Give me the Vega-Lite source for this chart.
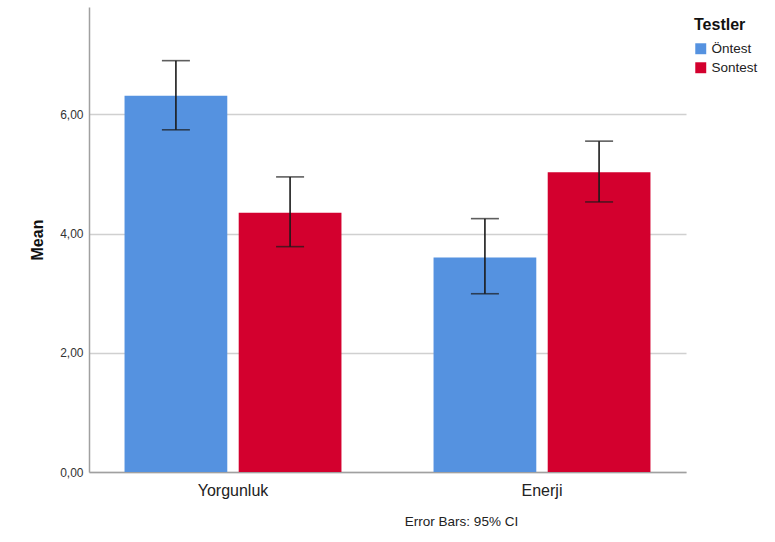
{
  "$schema": "https://vega.github.io/schema/vega-lite/v6.json",
  "autosize": {"type": "none"},
  "padding": {"left": 89, "top": 7, "right": 89, "bottom": 70},
  "width": 597,
  "height": 465,
  "background": "white",
  "config": {
    "font": "Liberation Sans",
    "view": {"stroke": null},
    "locale": {
      "number": {"decimal": ",", "thousands": ".", "grouping": [3], "currency": ["", ""]}
    }
  },
  "data": {
    "values": [
      {"Olcum": "Yorgunluk", "Test": "Öntest", "mean": 6.31, "lo": 5.74, "hi": 6.90},
      {"Olcum": "Yorgunluk", "Test": "Sontest", "mean": 4.35, "lo": 3.78, "hi": 4.95},
      {"Olcum": "Enerji", "Test": "Öntest", "mean": 3.60, "lo": 2.99, "hi": 4.25},
      {"Olcum": "Enerji", "Test": "Sontest", "mean": 5.03, "lo": 4.53, "hi": 5.55}
    ]
  },
  "encoding": {
    "x": {
      "field": "Olcum",
      "type": "nominal",
      "sort": ["Yorgunluk", "Enerji"],
      "scale": {"paddingInner": 0.298, "paddingOuter": 0.115},
      "axis": {
        "title": "Error Bars: 95% CI",
        "titleFont": "Liberation Sans",
        "titleFontSize": 13.5,
        "titleFontWeight": "normal",
        "titleColor": "#222222",
        "titleX": 372,
        "titleY": 42,
        "titleAlign": "center",
        "labelAngle": 0,
        "labelFontSize": 16,
        "labelColor": "#222222",
        "labelPadding": 10,
        "ticks": false,
        "domainColor": "#a0a0a0",
        "domainWidth": 1.5
      }
    },
    "xOffset": {
      "field": "Test",
      "type": "nominal",
      "sort": ["Öntest", "Sontest"],
      "scale": {"paddingInner": 0.1, "paddingOuter": 0}
    }
  },
  "layer": [
    {
      "mark": {"type": "bar"},
      "encoding": {
        "y": {
          "field": "mean",
          "type": "quantitative",
          "scale": {"domain": [0, 7.8], "nice": false},
          "axis": {
            "title": "Mean",
            "titleFontSize": 16,
            "titleFontWeight": "bold",
            "titleColor": "#111111",
            "titlePadding": 14,
            "values": [0, 2, 4, 6],
            "format": ".2f",
            "labelFontSize": 12,
            "labelColor": "#333333",
            "labelPadding": 6,
            "ticks": false,
            "domainColor": "#a0a0a0",
            "domainWidth": 1.5,
            "grid": true,
            "gridColor": "#d0d0d0",
            "gridWidth": 1.5
          }
        },
        "color": {
          "field": "Test",
          "type": "nominal",
          "sort": ["Öntest", "Sontest"],
          "scale": {"domain": ["Öntest", "Sontest"], "range": ["#5592e0", "#d3002e"]},
          "legend": {
            "title": "Testler",
            "orient": "none",
            "legendX": 605,
            "legendY": 10,
            "titleFontSize": 16,
            "titleFontWeight": "bold",
            "titleColor": "#111111",
            "titlePadding": 9,
            "labelFontSize": 13.5,
            "labelColor": "#222222",
            "labelOffset": 4,
            "symbolType": "square",
            "symbolSize": 120,
            "symbolStrokeWidth": 0,
            "symbolOpacity": 1,
            "rowPadding": 4
          }
        }
      }
    },
    {
      "mark": {"type": "rule", "color": "#1a1a1a", "strokeWidth": 1.6},
      "encoding": {
        "y": {"field": "lo", "type": "quantitative"},
        "y2": {"field": "hi"}
      }
    },
    {
      "mark": {"type": "tick", "color": "#1a1a1a", "thickness": 1.6, "size": 28},
      "encoding": {
        "y": {"field": "lo", "type": "quantitative"}
      }
    },
    {
      "mark": {"type": "tick", "color": "#1a1a1a", "thickness": 1.6, "size": 28},
      "encoding": {
        "y": {"field": "hi", "type": "quantitative"}
      }
    }
  ]
}
